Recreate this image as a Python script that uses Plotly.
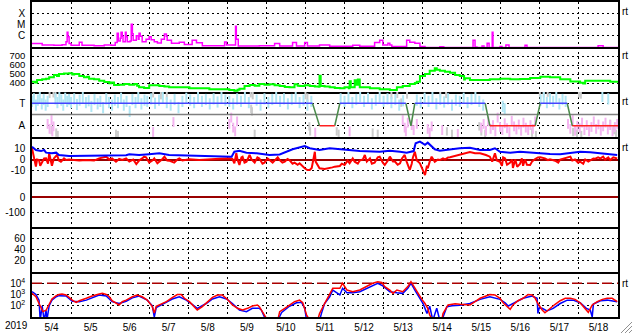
import plotly.graph_objects as go
from plotly.subplots import make_subplots

# ---------------- time axis (days since 2019-05-04 00:00) ----------------
day_labels = ["5/4", "5/5", "5/6", "5/7", "5/8", "5/9", "5/10", "5/11", "5/12",
              "5/13", "5/14", "5/15", "5/16", "5/17", "5/18"]
label_pos = [0.5, 1.5, 2.5, 3.5, 4.5, 5.5, 6.5, 7.5, 8.5, 9.5, 10.5, 11.5, 12.5, 13.5, 14.5]

# ---------------- X-ray flux (x1e-7 W/m2) ----------------
xray_t = [0.00, 0.13, 0.26, 0.56, 0.77, 0.87, 0.90, 0.92, 0.95, 1.00, 1.21, 1.28, 1.59, 1.85,
          2.03, 2.13, 2.18, 2.21, 2.26, 2.28, 2.31, 2.33, 2.39, 2.41, 2.44, 2.51, 2.54, 2.57,
          2.59, 2.67, 2.72, 2.74, 2.77, 2.82, 2.92, 3.00, 3.05, 3.13, 3.21, 3.31, 3.39, 3.44,
          3.46, 3.57, 3.77, 3.90, 4.10, 4.21, 4.36, 4.93, 4.98, 5.21, 5.23, 5.28, 5.82, 6.21,
          6.34, 6.67, 6.77, 6.98, 7.05, 7.36, 7.62, 8.21, 8.39, 8.77, 8.90, 8.98, 9.11, 9.16,
          9.21, 9.59, 9.67, 9.80, 9.93, 10.06, 10.44, 10.54, 11.29, 11.34, 11.39, 11.52, 11.57,
          11.65, 11.70, 11.78, 11.80, 11.98, 12.03, 12.13, 12.21, 12.62, 12.67, 14.49, 14.62, 15.0]
xray_v = [2.1, 2.0, 1.5, 1.4, 1.6, 3.0, 20, 8, 2.0, 1.4, 2.6, 1.4, 1.3, 1.5,
          1.4, 2.5, 17, 3.5, 6, 20, 9, 3, 20, 8, 3, 3.5, 105, 15,
          4, 10, 5, 17, 9, 3, 5, 8, 4.5, 3, 2.3, 5, 14, 9,
          4, 2.2, 2.6, 1.7, 4, 2.4, 1.3, 2.8, 1.5, 70, 5, 1.2, 1.3, 2.0,
          1.2, 2.5, 1.2, 2.5, 1.2, 1.5, 1.15, 1.4, 1.15, 2.5, 4, 1.5, 2.2, 1.5,
          1.1, 4, 2.6, 2.2, 1.1, 0.9, 1.05, 0.9, 4, 1.0, 0.9, 1.2, 0.9,
          2.2, 0.9, 20, 0.9, 1.1, 0.9, 1.5, 0.9, 1.4, 0.9, 1.3, 0.9, 0.9]

# ---------------- solar wind speed (km/s) ----------------
speed_t = [0.00, 0.08, 0.13, 0.26, 0.36, 0.44, 0.56, 0.64, 0.69, 0.82, 0.95, 1.03, 1.08, 1.21,
           1.33, 1.41, 1.46, 1.59, 1.72, 1.85, 1.98, 2.03, 2.10, 2.23, 2.36, 2.49, 2.62, 2.69,
           2.74, 2.87, 3.00, 3.13, 3.26, 3.39, 3.51, 3.77, 4.03, 4.28, 4.54, 4.80, 5.05, 5.18,
           5.26, 5.31, 5.44, 5.57, 5.70, 5.82, 5.95, 6.08, 6.21, 6.34, 6.47, 6.59, 6.72, 6.80,
           6.85, 6.98, 7.11, 7.24, 7.34, 7.36, 7.39, 7.49, 7.62, 7.75, 7.88, 8.00, 8.11, 8.13,
           8.16, 8.26, 8.31, 8.34, 8.39, 8.65, 8.90, 9.16, 9.34, 9.49, 9.67, 9.80, 9.85, 9.93,
           10.06, 10.18, 10.31, 10.36, 10.44, 10.57, 10.70, 10.83, 10.95, 11.06, 11.08, 11.21,
           11.47, 11.72, 11.98, 12.24, 12.49, 12.75, 13.01, 13.26, 13.52, 13.78, 14.03, 14.11,
           14.16, 14.29, 14.55, 14.80, 14.98]
speed_v = [414, 405, 433, 441, 448, 463, 489, 478, 500, 505, 508, 495, 500, 478,
           463, 470, 448, 441, 426, 411, 397, 405, 378, 381, 389, 381, 389, 370,
           352, 344, 374, 374, 367, 360, 352, 352, 341, 341, 330, 330, 322, 314,
           325, 337, 367, 378, 370, 389, 380, 386, 375, 367, 355, 352, 386, 370,
           367, 375, 367, 360, 359, 480, 367, 360, 352, 345, 341, 352, 341, 420,
           352, 430, 380, 440, 352, 341, 330, 322, 352, 367, 389, 400, 414, 478,
           500, 537, 563, 548, 537, 526, 515, 489, 478, 440, 452, 433,
           433, 441, 448, 441, 444, 455, 470, 463, 441, 418, 404, 395,
           426, 426, 426, 414, 404]

# ---------------- IMF sector (T / A) and phi scatter (deg) ----------------
sector_t = [0.0, 7.18, 7.36, 7.75, 7.88, 9.57, 9.70, 9.80, 11.60, 11.72, 12.88, 13.01, 13.70, 13.83, 15.0]
sector_v = [315, 315, 135, 135, 315, 315, 135, 315, 315, 135, 135, 315, 315, 135, 135]

phi_t_toward = [0.00, 0.05, 0.10, 0.15, 0.20, 0.25, 0.30, 0.35, 0.40, 0.60, 0.65, 0.70, 0.75, 0.80,
                0.85, 0.90, 0.95, 1.00, 1.08, 1.15, 1.22, 1.30, 1.38, 1.45, 1.52, 1.60, 1.68, 1.75,
                1.82, 1.90, 1.97, 2.05, 2.12, 2.20, 2.28, 2.35, 2.42, 2.50, 2.57, 2.65, 2.72, 2.80,
                2.88, 2.95, 3.05, 3.15, 3.25, 3.35, 3.45, 3.55, 3.65, 3.75, 3.85, 3.95, 4.05, 4.15,
                4.25, 4.35, 4.45, 4.55, 4.65, 4.75, 4.85, 4.95, 5.05, 5.15, 5.25, 5.35, 5.45, 5.55,
                5.75, 5.85, 5.95, 6.05, 6.15, 6.25, 6.35, 6.45, 6.55, 6.65, 6.75, 6.85, 6.95, 7.05,
                7.15, 7.90, 8.00, 8.10, 8.20, 8.30, 8.40, 8.50, 8.60, 8.70, 8.80, 8.90, 9.00, 9.10,
                9.20, 9.30, 9.40, 9.50, 9.85, 9.95, 10.05, 10.15, 10.25, 10.35, 10.45, 10.55, 10.65,
                10.75, 10.85, 10.95, 11.05, 11.15, 11.25, 11.35, 11.45, 11.55, 12.05, 12.10, 13.02,
                13.10, 13.18, 13.26, 13.34, 13.42, 13.50, 13.58, 13.66, 14.60, 14.75]
phi_v_toward = [330, 350, 300, 340, 360, 310, 345, 300, 330, 350, 320, 365, 340, 300,
                355, 330, 345, 320, 350, 305, 340, 360, 320, 335, 290, 345, 310, 330,
                280, 350, 320, 300, 340, 320, 355, 300, 330, 250, 345, 320, 360, 310,
                340, 330, 350, 315, 340, 360, 320, 300, 345, 280, 330, 355, 340, 320,
                360, 330, 345, 310, 350, 325, 360, 340, 330, 310, 350, 330, 360, 320,
                340, 300, 350, 320, 345, 360, 330, 350, 310, 345, 365, 320, 340, 300,
                330, 350, 330, 360, 320, 345, 370, 330, 355, 310, 340, 365, 330, 350,
                320, 345, 300, 335, 340, 320, 355, 330, 360, 310, 345, 325, 350,
                300, 340, 330, 355, 320, 345, 360, 330, 300, 290, 270, 340,
                360, 320, 350, 330, 365, 310, 345, 330, 370, 350]

phi_t_away = [0.40, 0.45, 0.50, 0.52, 0.55, 3.10, 3.62, 5.05, 5.10, 5.15, 5.20, 5.25, 7.25, 8.13,
              9.49, 9.54, 9.57, 9.62, 9.72, 9.77, 9.85, 10.13, 10.18, 10.23, 10.50, 10.90,
              11.50, 11.56, 11.62, 11.68, 11.74, 11.80, 11.86, 11.92, 11.98, 12.04, 12.10, 12.16,
              12.22, 12.28, 12.34, 12.40, 12.46, 12.52, 12.58, 12.64, 12.70, 12.76, 12.82, 12.88,
              13.72, 13.78, 13.84, 13.90, 13.96, 14.02, 14.08, 14.14, 14.20, 14.26, 14.32, 14.38,
              14.44, 14.50, 14.56, 14.62, 14.68, 14.74, 14.80, 14.86, 14.92, 14.98]
phi_v_away = [150, 110, 180, 90, 130, 85, 165, 150, 200, 120, 90, 170, 80, 90,
              180, 120, 90, 160, 140, 100, 150, 110, 80, 130, 100, 70,
              120, 150, 95, 170, 110, 140, 90, 200, 125, 100, 155, 115,
              85, 175, 130, 105, 145, 95, 160, 120, 100, 140, 110, 170,
              150, 110, 180, 95, 135, 115, 160, 100, 140, 90, 125, 170,
              110, 145, 95, 130, 160, 105, 140, 90, 125, 150]

phi_t_other = [0.45, 0.55, 0.60, 0.50, 0.62, 0.66, 2.15, 2.20, 3.10, 3.30, 3.45, 5.60, 5.65, 5.61,
               5.63, 5.70, 7.00, 7.05, 7.10, 7.12, 7.80, 7.85, 8.72, 8.85, 9.20, 9.35, 9.45, 9.60,
               10.45, 10.60, 10.62, 10.75, 11.45, 11.50, 11.60, 12.80, 12.90, 13.00, 13.10, 13.20,
               13.85, 13.95, 14.00, 14.05, 14.06, 14.80, 14.90, 14.95]
phi_v_other = [390, 395, 385, 100, 80, 60, 70, 60, 395, 380, 375, 395, 380, 270,
               250, 70, 380, 360, 130, 90, 90, 70, 80, 70, 380, 390, 320, 385,
               395, 390, 90, 70, 130, 90, 70, 80, 60, 400, 395, 400,
               85, 70, 395, 385, 60, 150, 100, 70]

# ---------------- IMF Bt / Bz (nT) ----------------
bt_t = [0.00, 0.05, 0.10, 0.23, 0.31, 0.36, 0.51, 0.62, 0.69, 0.95, 1.21, 1.72, 2.23, 2.41, 2.49,
        2.74, 3.00, 3.26, 3.51, 3.77, 4.03, 4.54, 5.11, 5.18, 5.31, 5.49, 5.75, 6.08, 6.34, 6.67,
        6.85, 6.98, 7.11, 7.36, 7.62, 7.88, 8.13, 8.39, 8.90, 9.16, 9.42, 9.59, 9.77, 9.82, 9.93,
        10.06, 10.13, 10.23, 10.31, 10.44, 10.70, 10.95, 11.21, 11.47, 11.72, 11.85, 11.98, 12.24,
        12.49, 12.75, 13.01, 13.26, 13.52, 13.78, 14.03, 14.29, 14.55, 14.80, 14.98]
bt_v = [12.2, 10.5, 9, 8, 9, 6.5, 5.9, 6.5, 4.3, 3.3, 3.3, 3.6, 3.3, 4.0, 5,
        4.3, 5, 5.9, 4.3, 4.0, 3.3, 2.7, 2.7, 7.4, 8.4, 6.5, 5.9, 4.3, 4.8, 9.7,
        11.6, 12.9, 10.7, 9, 10.7, 9.7, 8.4, 8, 7.4, 8.4, 7.4, 6.5, 8, 15.4, 17,
        14, 16, 12.2, 9.7, 8.4, 9.7, 10.7, 11.2, 9, 9, 10.7, 7.4, 6.5,
        7.4, 6.5, 5.9, 5.2, 5, 5.9, 7.4, 6.8, 5.9, 5.2, 4.3]

bz_t = [0.00, 0.03, 0.08, 0.10, 0.13, 0.18, 0.21, 0.26, 0.31, 0.36, 0.41, 0.44, 0.49, 0.51, 0.56,
        0.64, 0.69, 0.74, 0.82, 0.87, 0.95, 1.03, 1.21, 1.39, 1.59, 1.72, 1.90, 1.98, 2.05, 2.15,
        2.23, 2.31, 2.41, 2.49, 2.59, 2.67, 2.74, 2.82, 2.87, 2.92, 3.00, 3.08, 3.13, 3.21, 3.26,
        3.34, 3.39, 3.46, 3.51, 3.59, 3.64, 3.72, 3.77, 3.85, 3.90, 4.03, 4.28, 4.54, 4.80, 5.05,
        5.13, 5.18, 5.23, 5.26, 5.31, 5.36, 5.39, 5.44, 5.49, 5.57, 5.62, 5.70, 5.77, 5.82, 5.90,
        5.95, 6.03, 6.08, 6.16, 6.21, 6.29, 6.34, 6.41, 6.47, 6.54, 6.59, 6.67, 6.72, 6.80, 6.85,
        6.93, 6.98, 7.05, 7.11, 7.16, 7.21, 7.24, 7.26, 7.31, 7.36, 7.49, 7.62, 7.69, 7.75, 7.88,
        7.93, 8.00, 8.08, 8.13, 8.21, 8.26, 8.34, 8.39, 8.47, 8.52, 8.57, 8.65, 8.70, 8.77, 8.85,
        8.90, 8.98, 9.03, 9.11, 9.16, 9.24, 9.29, 9.36, 9.42, 9.47, 9.54, 9.59, 9.67, 9.72, 9.75,
        9.80, 9.85, 9.93, 9.98, 10.03, 10.06, 10.11, 10.13, 10.18, 10.23, 10.31, 10.39, 10.44,
        10.52, 10.57, 10.65, 10.70, 10.83, 10.95, 11.08, 11.21, 11.34, 11.47, 11.62, 11.72, 11.78,
        11.85, 11.90, 11.98, 12.03, 12.06, 12.11, 12.16, 12.24, 12.29, 12.31, 12.37, 12.42, 12.49,
        12.54, 12.57, 12.62, 12.67, 12.75, 12.80, 12.88, 12.95, 13.01, 13.13, 13.21, 13.26, 13.39,
        13.47, 13.52, 13.65, 13.78, 13.83, 13.90, 13.98, 14.03, 14.11, 14.16, 14.24, 14.29, 14.37,
        14.42, 14.49, 14.55, 14.62, 14.67, 14.75, 14.80, 14.88, 14.98]
bz_v = [10.7, 4.3, -5.2, -6.8, 0, -0.5, -6, -3, 1, 1.1, -4, 5.9, -3.3, -6, 1,
        4.3, -1, -2.1, 1, -0.5, 0, -0.5, -1, -0.5, -1, 1.1, 2.7, 0, 1, -2.1,
        0.5, -0.5, 1, -2, 0, -4.3, -1, 1, 2.7, 2.1, -3, -1, 1.1, -3.5, -2.1,
        0.5, 2.7, -1, -1.1, -2, -3, 0, 1.1, -1, -0.5, 0.3, -0.5, 0.3, 0.8, 1.1,
        0.5, -3.6, 5.9, 0, -5.2, 2, 2.7, -3, -2.1, 4.3, 0, -3, 2, 1, -4,
        -3, 1, -0.5, -3, -1.1, 2, -0.5, -3, -2.1, 0.5, -0.5, -4, -3, -5, -3.6,
        -7, -8.4, -10, -10, -8, 0, 7.4, -2, -6, -8.4, -9, -8.4, -7.5, -6.8, -6.2,
        -4, -5.2, -1, -3.6, 1, -2.1, -4, -1, 0, 4.3, -2, 1.1, -4, -3, 2,
        2.7, -3, -5.2, -1, 2.7, -2, -2, -5, -3.6, 1, 4.3, -2, -10, -4, 2,
        7.4, -1, -3.6, -8, -12, -14.8, -6, -8.4, -2, 2.7, -2.1, 0, -0.5,
        1, 0, 2, 2.1, 3.3, 4.3, 5.2, 7, 6, 5.9, 4.3, 2.7, -2,
        6, -1, -2.1, -6, 2, 1, -5, -3, 0, -8, 0, -7, -4.3,
        1, -6, 0, -5, -5.2, -2, 0.5, 2, 2.1, 1.1, -0.5, 0.2, -1.1,
        -3, 0, 1.1, 2.7, -1, 0, -3, -2, -4, 0, -2, -1, 1,
        0.8, 2, 1, 2.7, 0, 2, -0.5, 2, 1]

# ---------------- electron flux >2MeV (pfu) ----------------
e_red_t = [0.00, 0.10, 0.18, 0.23, 0.28, 0.36, 0.44, 0.51, 0.62, 0.69, 0.77, 0.87, 0.95, 1.03, 1.13,
           1.21, 1.39, 1.54, 1.72, 1.80, 1.90, 1.98, 2.05, 2.15, 2.23, 2.31, 2.41, 2.57, 2.69, 2.82,
           2.95, 3.08, 3.13, 3.18, 3.26, 3.44, 3.59, 3.72, 3.82, 3.90, 4.03, 4.16, 4.23, 4.36, 4.49,
           4.62, 4.75, 4.87, 5.00, 5.13, 5.26, 5.39, 5.52, 5.64, 5.77, 5.82, 5.95, 6.03, 6.29, 6.34,
           6.47, 6.59, 6.72, 6.85, 6.93, 7.03, 7.11, 7.31, 7.36, 7.49, 7.62, 7.70, 7.88, 7.95, 8.06,
           8.21, 8.39, 8.57, 8.72, 8.85, 8.95, 9.03, 9.16, 9.24, 9.34, 9.49, 9.62, 9.70, 9.80, 9.88,
           9.98, 10.06, 10.13, 10.18, 10.26, 10.49, 10.52, 10.65, 10.83, 10.95, 11.08, 11.21, 11.34,
           11.47, 11.62, 11.72, 11.85, 11.98, 12.06, 12.16, 12.24, 12.31, 12.44, 12.57, 12.70, 12.80,
           12.88, 12.95, 13.06, 13.13, 13.26, 13.39, 13.52, 13.65, 13.78, 13.90, 14.03, 14.16, 14.24,
           14.34, 14.47, 14.60, 14.72, 14.85, 14.98]
e_red_v = [1260, 630, 158, 60, 30, 40, 158, 400, 790, 1000, 1100, 910, 560, 316, 200,
           280, 460, 740, 1100, 1260, 1000, 630, 280, 186, 117, 230, 316, 630, 910, 630,
           316, 83, 22, 90, 117, 230, 520, 1000, 1000, 460, 230, 83, 42, 83, 230,
           560, 910, 910, 370, 117, 59, 42, 59, 95, 117, 83, 15, 5, 5, 30,
           59, 117, 230, 316, 186, 15, 5, 5, 20, 158, 1260, 3550, 3550, 10000, 2500,
           1780, 2500, 5000, 10000, 13800, 12000, 5000, 2500, 1260, 2500, 1780, 5000, 13800, 3550, 1260,
           370, 158, 60, 15, 5, 5, 20, 117, 150, 135, 120, 117, 230,
           460, 740, 1000, 910, 460, 186, 83, 48, 117, 280, 460, 1000, 910,
           460, 158, 42, 24, 59, 135, 280, 460, 460, 370, 186, 59, 26,
           117, 230, 370, 460, 460, 230]

e_blue_t = [0.00, 0.10, 0.18, 0.21, 0.26, 0.31, 0.36, 0.38, 0.44, 0.51, 0.62, 0.69, 0.87, 1.03,
            1.21, 1.39, 1.72, 1.90, 2.05, 2.23, 2.41, 2.57, 2.74, 2.95, 3.08, 3.13, 3.18, 3.44,
            3.59, 3.77, 3.95, 4.10, 4.23, 4.46, 4.62, 4.80, 4.98, 5.13, 5.31, 5.49, 5.64, 5.82,
            5.87, 5.95, 6.03, 6.29, 6.39, 6.59, 6.77, 6.90, 6.98, 7.03, 7.36, 7.41, 7.49, 7.62,
            7.70, 7.88, 7.95, 8.06, 8.21, 8.39, 8.57, 8.72, 8.85, 8.98, 9.16, 9.34, 9.49, 9.62,
            9.70, 9.80, 9.88, 10.01, 10.11, 10.18, 10.26, 10.36, 10.44, 10.49, 10.62, 10.75, 10.95,
            11.08, 11.21, 11.47, 11.72, 11.98, 12.11, 12.19, 12.31, 12.57, 12.80, 12.93, 12.95,
            12.98, 13.06, 13.18, 13.34, 13.52, 13.70, 13.85, 14.03, 14.19, 14.29, 14.34, 14.37,
            14.55, 14.72, 14.88, 14.98]
e_blue_v = [1780, 1000, 316, 5, 100, 5, 40, 5, 100, 316, 630, 790, 740, 250,
            230, 316, 910, 740, 230, 158, 250, 500, 740, 316, 100, 10, 70, 200,
            400, 630, 316, 130, 59, 158, 400, 630, 400, 158, 42, 30, 59, 59,
            42, 10, 5, 5, 25, 90, 186, 200, 60, 5, 5, 21, 158, 630,
            2500, 910, 3550, 1410, 1410, 1780, 3550, 7080, 10000, 5750, 1780, 1410, 1260, 3550,
            10000, 2500, 910, 158, 21, 90, 5, 60, 5, 5, 83, 100, 110,
            130, 158, 370, 630, 370, 186, 95, 158, 460, 740, 460, 21,
            59, 59, 34, 59, 158, 316, 316, 186, 59, 42, 10, 140,
            280, 316, 280, 230]

# ---------------- figure ----------------
W, H = 633, 334
ML, MR, MT, MB = 32, 15, 2, 17
PW, PH = W - ML - MR, H - MT - MB

fig = make_subplots(rows=7, cols=1, shared_xaxes=True, vertical_spacing=0)

# panel 1: X-ray
fig.add_trace(go.Scatter(x=xray_t, y=[v * 1e-7 for v in xray_v], mode="lines",
                         line=dict(color="#ff00ff", width=1.5, shape="hv")), row=1, col=1)
# panel 2: speed
fig.add_trace(go.Scatter(x=speed_t, y=speed_v, mode="lines",
                         line=dict(color="#00ff00", width=2, shape="hv")), row=2, col=1)
# panel 3: phi scatter + sector line
fig.add_trace(go.Scatter(x=phi_t_other, y=phi_v_other, mode="markers",
                         marker=dict(symbol="line-ns", size=6, line=dict(width=2, color="#cccccc"))),
              row=3, col=1)
fig.add_trace(go.Scatter(x=phi_t_away, y=phi_v_away, mode="markers",
                         marker=dict(symbol="line-ns", size=7, line=dict(width=2, color="#f4b4f0"))),
              row=3, col=1)
fig.add_trace(go.Scatter(x=phi_t_toward, y=phi_v_toward, mode="markers",
                         marker=dict(symbol="line-ns", size=8, line=dict(width=2, color="#b0e6f4"))),
              row=3, col=1)
fig.add_trace(go.Scatter(x=[0, 15], y=[225, 225], mode="lines",
                         line=dict(color="#808080", width=1.5)), row=3, col=1)
seg = {"T": ([], []), "A": ([], []), "X": ([], [])}
for i in range(len(sector_t) - 1):
    a, b = sector_v[i], sector_v[i + 1]
    key = "T" if (a == 315 and b == 315) else ("A" if (a == 135 and b == 135) else "X")
    seg[key][0].extend([sector_t[i], sector_t[i + 1], None])
    seg[key][1].extend([a, b, None])
for key, col in (("X", "#4a8a4a"), ("T", "#4444ff"), ("A", "#ff2020")):
    fig.add_trace(go.Scatter(x=seg[key][0], y=seg[key][1], mode="lines",
                             line=dict(color=col, width=1.5)), row=3, col=1)
# panel 4: Bt / Bz
fig.add_trace(go.Scatter(x=bz_t, y=bz_v, mode="lines", line=dict(color="#ff0000", width=2)), row=4, col=1)
fig.add_trace(go.Scatter(x=bt_t, y=bt_v, mode="lines", line=dict(color="#0000ff", width=2)), row=4, col=1)
# panel 5 / 6: empty (Dst, Kp)
fig.add_trace(go.Scatter(x=[None], y=[None], mode="lines"), row=5, col=1)
fig.add_trace(go.Scatter(x=[None], y=[None], mode="lines"), row=6, col=1)
# panel 7: electrons
fig.add_trace(go.Scatter(x=[0, 15], y=[1e4, 1e4], mode="lines",
                         line=dict(color="#aa0000", width=1.5, dash="10px,5px")), row=7, col=1)
fig.add_trace(go.Scatter(x=e_blue_t, y=e_blue_v, mode="lines", line=dict(color="#0000ff", width=1.5)), row=7, col=1)
fig.add_trace(go.Scatter(x=e_red_t, y=e_red_v, mode="lines", line=dict(color="#ff0000", width=1.5)), row=7, col=1)

FONT = dict(family="Liberation Sans, Arial, sans-serif", size=10, color="black")
DOT = "2px,3px"

fig.update_xaxes(range=[0, 15], showgrid=False, zeroline=False, showline=True, mirror=False,
                 linecolor="black", linewidth=2, ticks="", tickmode="array",
                 tickvals=label_pos, ticktext=day_labels, tickfont=FONT, automargin=False,
                 minor=dict(tickmode="linear", tick0=0, dtick=1, showgrid=True, gridcolor="black",
                            gridwidth=1, griddash=DOT, ticks=""))
fig.update_xaxes(row=1, col=1, mirror=True)
fig.update_yaxes(showline=True, mirror=True, linecolor="black", linewidth=1.5, ticks="",
                 showgrid=True, gridcolor="black", gridwidth=1, griddash=DOT, zeroline=False,
                 tickfont=FONT, automargin=False, ticklabelstandoff=3)

fig.update_yaxes(row=1, col=1, type="log", range=[-7, -3], tickvals=[1e-6, 1e-5, 1e-4],
                 ticktext=["C", "M", "X"])
fig.update_yaxes(row=2, col=1, range=[300, 800], tickvals=[400, 500, 600, 700],
                 ticktext=["400", "500", "600", "700"],
                 tickfont=dict(family="Liberation Sans, Arial, sans-serif", size=9.5, color="black"))
fig.update_yaxes(row=3, col=1, range=[45, 405], tickvals=[135, 315], ticktext=["A", "T"])
fig.update_yaxes(row=4, col=1, range=[-21.4, 21.4], tickvals=[-10, 0, 10], ticktext=["-10", "0", "10"],
                 zeroline=True, zerolinecolor="#990000", zerolinewidth=1.5)
fig.update_yaxes(row=5, col=1, range=[-200, 100], tickvals=[-100, 0], ticktext=["-100", "0"],
                 zeroline=True, zerolinecolor="#990000", zerolinewidth=1.5)
fig.update_yaxes(row=6, col=1, range=[0, 80], tickvals=[20, 40, 60], ticktext=["20", "40", "60"])
fig.update_yaxes(row=7, col=1, type="log", range=[1, 5], tickvals=[100, 1000, 10000],
                 ticktext=["10<sup>2</sup>", "10<sup>3</sup>", "10<sup>4</sup>"])


def px(xp):
    return (xp - ML) / PW


def py(yp):
    return (H - MB - yp) / PH


annotations = [dict(text="2019", x=px(16), y=py(326), xref="paper", yref="paper",
                    showarrow=False, font=FONT, xanchor="center", yanchor="middle")]
for yp in (11, 56, 101, 147, 283):
    annotations.append(dict(text="rt", x=px(620), y=py(yp), xref="paper", yref="paper",
                            showarrow=False, xanchor="left", yanchor="middle",
                            font=dict(family="Liberation Sans, Arial, sans-serif", size=10, color="black")))
shapes = []
for k in (4, 8, 12):
    shapes.append(dict(type="line", xref="paper", yref="paper",
                       x0=px(633 - k), y0=py(333), x1=px(632), y1=py(334 - k),
                       line=dict(color="#909090", width=1)))

fig.update_layout(width=W, height=H, margin=dict(l=ML, r=MR, t=MT, b=MB),
                  paper_bgcolor="white", plot_bgcolor="white", showlegend=False,
                  annotations=annotations, shapes=shapes, font=FONT)

fig.write_html("out.html")
